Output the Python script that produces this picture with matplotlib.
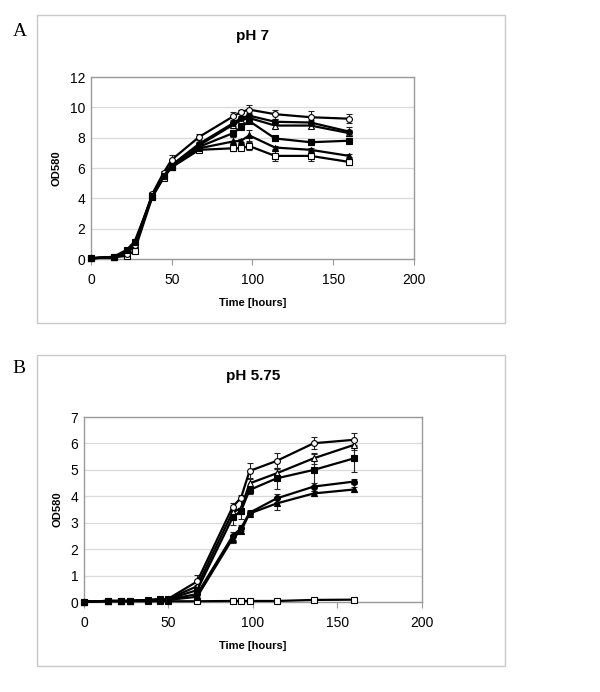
import matplotlib
matplotlib.use("Agg")
import matplotlib.pyplot as plt
from matplotlib.patches import Rectangle
import numpy as np

plt.rcParams['font.family'] = ['Liberation Sans', 'DejaVu Sans']

time = [0, 14, 22, 27, 38, 45, 50, 67, 88, 93, 98, 114, 136, 160]

# pH 7
a_oc = [0.05, 0.12, 0.3, 0.9, 4.3, 5.7, 6.55, 8.05, 9.4, 9.7, 9.85, 9.55, 9.35, 9.25]
a_fc = [0.05, 0.12, 0.5, 1.0, 4.2, 5.6, 6.2, 7.6, 8.95, 9.3, 9.45, 9.05, 9.0, 8.4]
a_ot = [0.05, 0.12, 0.4, 0.9, 4.2, 5.6, 6.15, 7.5, 8.85, 9.15, 9.3, 8.8, 8.8, 8.3]
a_fs = [0.05, 0.15, 0.6, 1.15, 4.15, 5.5, 6.1, 7.4, 8.3, 8.7, 9.1, 7.95, 7.7, 7.8]
a_ft = [0.05, 0.12, 0.45, 0.95, 4.1, 5.45, 6.1, 7.3, 7.75, 7.8, 8.15, 7.35, 7.2, 6.8]
a_os = [0.05, 0.12, 0.2, 0.55, 4.1, 5.35, 6.05, 7.2, 7.3, 7.3, 7.45, 6.8, 6.8, 6.4]
a_oc_err = [0, 0, 0, 0, 0.1, 0.1, 0.3, 0.2, 0.3, 0.1, 0.3, 0.3, 0.4, 0.3]
a_fc_err = [0, 0, 0, 0, 0.1, 0.1, 0.1, 0.1, 0.2, 0.1, 0.2, 0.15, 0.15, 0.3]
a_ot_err = [0, 0, 0, 0, 0.1, 0.1, 0.1, 0.1, 0.2, 0.1, 0.2, 0.15, 0.15, 0.2]
a_fs_err = [0, 0, 0, 0, 0.1, 0.1, 0.1, 0.1, 0.2, 0.1, 0.1, 0.15, 0.15, 0.1]
a_ft_err = [0, 0, 0, 0, 0.1, 0.1, 0.1, 0.1, 0.3, 0.1, 0.35, 0.1, 0.1, 0.1]
a_os_err = [0, 0, 0, 0, 0.1, 0.1, 0.1, 0.1, 0.2, 0.1, 0.25, 0.35, 0.35, 0.2]

# pH 5.75
b_oc = [0.02, 0.04, 0.04, 0.04, 0.07, 0.1, 0.13, 0.78, 3.6, 3.95, 4.96, 5.34, 6.01, 6.14]
b_ot = [0.02, 0.04, 0.04, 0.04, 0.07, 0.1, 0.12, 0.6, 3.4, 3.55, 4.49, 4.87, 5.44, 5.95]
b_fs = [0.02, 0.04, 0.04, 0.04, 0.07, 0.1, 0.12, 0.45, 3.2, 3.45, 4.24, 4.68, 5.0, 5.44]
b_fc = [0.02, 0.04, 0.04, 0.04, 0.07, 0.1, 0.1, 0.3, 2.5, 2.8, 3.38, 3.92, 4.37, 4.56]
b_ft = [0.02, 0.04, 0.04, 0.04, 0.07, 0.08, 0.08, 0.2, 2.4, 2.7, 3.35, 3.73, 4.11, 4.26]
b_os = [0.02, 0.03, 0.03, 0.03, 0.03, 0.03, 0.03, 0.03, 0.04, 0.04, 0.04, 0.04, 0.08, 0.09]
b_oc_err = [0, 0, 0, 0, 0, 0, 0.02, 0.25, 0.15, 0.1, 0.3, 0.3, 0.22, 0.25]
b_ot_err = [0, 0, 0, 0, 0, 0, 0.02, 0.2, 0.2, 0.4, 0.2, 0.2, 0.2, 0.2]
b_fs_err = [0, 0, 0, 0, 0, 0, 0.02, 0.2, 0.3, 0.1, 0.15, 0.4, 0.6, 0.5]
b_fc_err = [0, 0, 0, 0, 0, 0, 0.02, 0.1, 0.15, 0.1, 0.1, 0.15, 0.15, 0.1]
b_ft_err = [0, 0, 0, 0, 0, 0, 0.02, 0.1, 0.15, 0.1, 0.1, 0.25, 0.1, 0.1]
b_os_err = [0, 0, 0, 0, 0, 0, 0, 0, 0, 0, 0, 0, 0.02, 0.02]

styles = {"oc": ("o", "white"), "fc": ("o", "black"), "ot": ("^", "white"),
          "ft": ("^", "black"), "os": ("s", "white"), "fs": ("s", "black")}

fig = plt.figure(figsize=(6, 6.92), dpi=100)

def panel(ax, series, title, ymax):
    for key, y, e in series:
        m, fc = styles[key]
        ax.errorbar(time, y, yerr=e, color="black", lw=1.6, marker=m, ms=4.2,
                    mfc=fc, mec="black", mew=0.8, capsize=2, elinewidth=0.8,
                    capthick=0.8, ecolor="#222222", clip_on=False, zorder=3)
    ax.set_xlim(0, 200)
    ax.set_ylim(0, ymax)
    ax.set_xticks([0, 50, 100, 150, 200])
    ax.set_yticks(range(0, ymax + 1, 2 if ymax > 7 else 1))
    ax.yaxis.grid(True, color="#dadada", lw=0.9)
    ax.set_axisbelow(True)
    for s in ax.spines.values():
        s.set_color("#9a9a9a")
        s.set_linewidth(1.0)
    ax.tick_params(axis="x", length=4, color="#9a9a9a", labelsize=10, pad=6)
    ax.tick_params(axis="y", length=0, labelsize=10, pad=4)
    ax.set_xlabel("Time [hours]", fontsize=8, fontweight="bold", labelpad=8)
    ax.set_ylabel("OD580", fontsize=8, fontweight="bold", labelpad=6)
    ax.set_title(title, fontsize=11, fontweight="bold", pad=27)

# panel frames
for b in [(0.0617, 0.5332, 0.78, 0.445), (0.0617, 0.0376, 0.78, 0.449)]:
    fig.patches.append(Rectangle((b[0], b[1]), b[2], b[3], transform=fig.transFigure,
                                 fill=False, ec="#c8c8c8", lw=1.0))

axA = fig.add_axes([0.1517, 0.6257, 0.538, 0.263])
panel(axA, [("os", a_os, a_os_err), ("ft", a_ft, a_ft_err), ("ot", a_ot, a_ot_err),
            ("fc", a_fc, a_fc_err), ("oc", a_oc, a_oc_err), ("fs", a_fs, a_fs_err)],
      "pH 7", 12)

axB = fig.add_axes([0.14, 0.130, 0.563, 0.2673])
panel(axB, [("os", b_os, b_os_err), ("ft", b_ft, b_ft_err), ("fc", b_fc, b_fc_err),
            ("ot", b_ot, b_ot_err), ("oc", b_oc, b_oc_err), ("fs", b_fs, b_fs_err)],
      "pH 5.75", 7)

fig.text(0.033, 0.955, "A", fontsize=14, family="Liberation Serif", va="center", ha="center")
fig.text(0.032, 0.468, "B", fontsize=14, family="Liberation Serif", va="center", ha="center")

fig.savefig("out.png", dpi=100, facecolor="white")
